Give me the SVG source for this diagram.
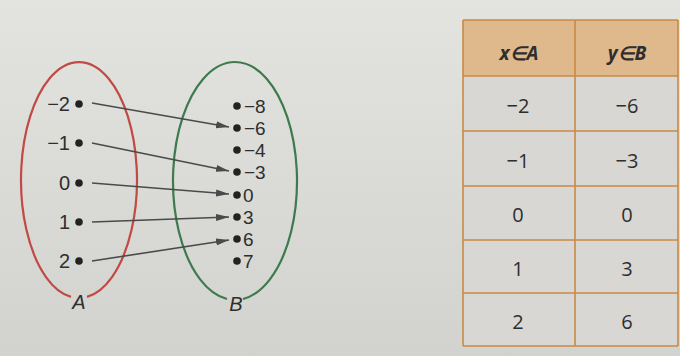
<svg xmlns="http://www.w3.org/2000/svg" width="680" height="356" viewBox="0 0 680 356">
<defs>
<linearGradient id="bg" x1="0" y1="0" x2="0" y2="1">
<stop offset="0" stop-color="#e3e3e0"/>
<stop offset="1" stop-color="#d2d2cf"/>
</linearGradient>
<marker id="ah" viewBox="0 0 13 8" refX="13" refY="4" markerWidth="13" markerHeight="8" markerUnits="userSpaceOnUse" orient="auto">
<path d="M0,0.5 L13,4 L0,7.5 Z" fill="#4a4a4a"/>
</marker>
<style>
.t{font-family:"Liberation Sans",Arial,sans-serif;font-size:20px;fill:#2e2e2e}
.b{font-family:"Liberation Sans",Arial,sans-serif;font-size:19px;fill:#2e2e2e}
.s{font-family:"Open Sans","Liberation Sans",sans-serif;font-size:20px;fill:#2e2e2e;text-anchor:middle}
.h{font-family:"Open Sans","Liberation Sans",sans-serif;font-size:19px;font-weight:bold;font-style:italic;fill:#2e2e2e;text-anchor:middle}
.d{fill:#222}
.c{stroke:#4a4a4a;stroke-width:1.6;fill:none;marker-end:url(#ah)}
.g{stroke:#c98a45;stroke-width:1.6}
</style>
</defs>
<rect x="0" y="0" width="680" height="356" fill="url(#bg)"/>

<g id="setA">
<path d="M71,296.9 A58,118 0 1 1 87,296.9" fill="none" stroke="#c24a44" stroke-width="2.2"/>
<text class="t" x="79" y="309" text-anchor="middle" font-style="italic">A</text>
<circle class="d" cx="79" cy="104" r="3.8"/><text class="t" x="70" y="111" text-anchor="end">−2</text>
<circle class="d" cx="79" cy="143" r="3.8"/><text class="t" x="70" y="150" text-anchor="end">−1</text>
<circle class="d" cx="79" cy="183" r="3.8"/><text class="t" x="70" y="190" text-anchor="end">0</text>
<circle class="d" cx="79" cy="222" r="3.8"/><text class="t" x="70" y="229" text-anchor="end">1</text>
<circle class="d" cx="79" cy="261" r="3.8"/><text class="t" x="70" y="268" text-anchor="end">2</text>
</g>

<g id="setB">
<path d="M227,299 A62,119 0 1 1 243,299" fill="none" stroke="#3d7a4e" stroke-width="2.2"/>
<text class="t" x="236" y="311" text-anchor="middle" font-style="italic">B</text>
<circle class="d" cx="237" cy="106" r="3.8"/><text class="b" x="244" y="113">−8</text>
<circle class="d" cx="237" cy="128" r="3.8"/><text class="b" x="244" y="135">−6</text>
<circle class="d" cx="237" cy="150" r="3.8"/><text class="b" x="244" y="157">−4</text>
<circle class="d" cx="237" cy="172" r="3.8"/><text class="b" x="244" y="179">−3</text>
<circle class="d" cx="237" cy="195" r="3.8"/><text class="b" x="243" y="202">0</text>
<circle class="d" cx="237" cy="217" r="3.8"/><text class="b" x="243" y="224">3</text>
<circle class="d" cx="237" cy="239" r="3.8"/><text class="b" x="243" y="246">6</text>
<circle class="d" cx="237" cy="261" r="3.8"/><text class="b" x="243" y="268">7</text>
</g>

<g id="connectors">
<line class="c" x1="92" y1="103" x2="229" y2="127"/>
<line class="c" x1="92" y1="143" x2="229" y2="171"/>
<line class="c" x1="92" y1="183" x2="229" y2="194"/>
<line class="c" x1="92" y1="222" x2="229" y2="217"/>
<line class="c" x1="92" y1="261" x2="229" y2="240"/>
</g>

<g id="table">
<rect x="463" y="20" width="215" height="56" fill="#dfb98c"/>
<rect x="463" y="76" width="215" height="270" fill="#d8d7d3"/>
<line class="g" x1="463" y1="20" x2="678" y2="20"/>
<line class="g" x1="463" y1="76" x2="678" y2="76"/>
<line class="g" x1="463" y1="131" x2="678" y2="131"/>
<line class="g" x1="463" y1="186" x2="678" y2="186"/>
<line class="g" x1="463" y1="240" x2="678" y2="240"/>
<line class="g" x1="463" y1="293" x2="678" y2="293"/>
<line class="g" x1="463" y1="346" x2="678" y2="346"/>
<line class="g" x1="463" y1="20" x2="463" y2="346"/>
<line class="g" x1="575" y1="20" x2="575" y2="346"/>
<line class="g" x1="678" y1="20" x2="678" y2="346"/>
<text class="h" x="519" y="60">x∈A</text>
<text class="h" x="627" y="60">y∈B</text>
<text class="s" x="518" y="113">−2</text><text class="s" x="627" y="113">−6</text>
<text class="s" x="518" y="168">−1</text><text class="s" x="627" y="168">−3</text>
<text class="s" x="518" y="222">0</text><text class="s" x="627" y="222">0</text>
<text class="s" x="518" y="276">1</text><text class="s" x="627" y="276">3</text>
<text class="s" x="518" y="329">2</text><text class="s" x="627" y="329">6</text>
</g>
</svg>
